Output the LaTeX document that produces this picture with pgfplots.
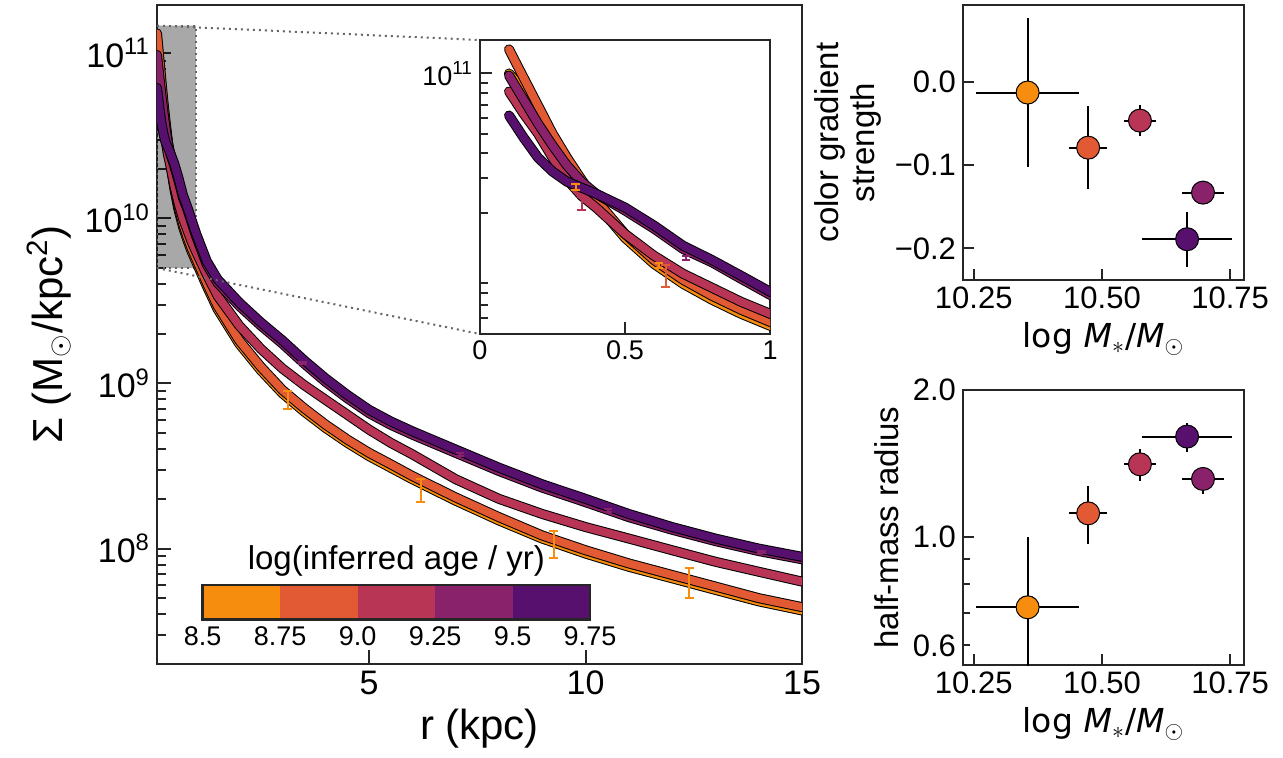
\documentclass[border=0pt]{standalone}
\usepackage{fontspec}
\setmainfont{Liberation Sans}
\newfontfamily\dejavu{DejaVu Sans}
\usepackage{pgfplots}
\pgfplotsset{compat=1.18}
\usepackage{pgfplotstable}

\definecolor{cA}{HTML}{F68D0E}
\definecolor{cB}{HTML}{E15A34}
\definecolor{cC}{HTML}{B83556}
\definecolor{cD}{HTML}{89226A}
\definecolor{cE}{HTML}{57106E}
\definecolor{axc}{HTML}{262626}

% surface density profiles, r in kpc, Sigma in Msun/kpc^2
\pgfplotstableread{
r s
0.1 1.00e11
0.15 8.32e10
0.2 6.31e10
0.25 4.79e10
0.3 3.63e10
0.35 2.88e10
0.4 2.24e10
0.5 1.51e10
0.6 1.12e10
0.7 8.91e9
0.8 7.41e9
0.9 6.31e9
1.0 5.50e9
1.25 3.89e9
1.5 2.82e9
2.0 1.74e9
2.5 1.20e9
3.0 8.71e8
3.5 6.76e8
4.0 5.37e8
4.5 4.37e8
5.0 3.63e8
5.5 3.09e8
6.0 2.63e8
7.0 1.95e8
8.0 1.48e8
9.0 1.15e8
10 9.33e7
11 7.76e7
12 6.61e7
13 5.62e7
14 4.79e7
15 4.22e7
}\tabA
\pgfplotstableread{
r s
0.1 1.32e11
0.15 9.55e10
0.2 6.92e10
0.25 5.01e10
0.3 3.80e10
0.35 2.95e10
0.4 2.34e10
0.5 1.58e10
0.6 1.17e10
0.7 9.33e9
0.8 7.76e9
0.9 6.61e9
1.0 5.75e9
1.25 4.07e9
1.5 2.95e9
2.0 1.82e9
2.5 1.26e9
3.0 9.12e8
3.5 7.08e8
4.0 5.62e8
4.5 4.57e8
5.0 3.80e8
5.5 3.24e8
6.0 2.75e8
7.0 2.04e8
8.0 1.55e8
9.0 1.20e8
10 9.77e7
11 8.13e7
12 6.92e7
13 5.89e7
14 5.01e7
15 4.42e7
}\tabB
\pgfplotstableread{
r s
0.1 8.13e10
0.15 6.31e10
0.2 5.01e10
0.25 3.80e10
0.3 2.95e10
0.35 2.45e10
0.4 2.14e10
0.5 1.58e10
0.6 1.23e10
0.7 1.00e10
0.8 8.51e9
0.9 7.24e9
1.0 6.31e9
1.25 4.57e9
1.5 3.39e9
2.0 2.24e9
2.5 1.62e9
3.0 1.23e9
3.5 9.77e8
4.0 7.94e8
4.5 6.46e8
5.0 5.25e8
5.5 4.37e8
6.0 3.72e8
7.0 2.63e8
8.0 2.00e8
9.0 1.62e8
10 1.35e8
11 1.15e8
12 9.77e7
13 8.32e7
14 7.24e7
15 6.31e7
}\tabC
\pgfplotstableread{
r s
0.1 9.77e10
0.15 7.41e10
0.2 5.62e10
0.25 4.37e10
0.3 3.47e10
0.35 2.88e10
0.4 2.51e10
0.5 2.07e10
0.6 1.68e10
0.7 1.33e10
0.8 1.14e10
0.9 9.44e9
1.0 7.85e9
1.25 5.25e9
1.5 4.07e9
2.0 2.95e9
2.5 2.24e9
3.0 1.74e9
3.5 1.32e9
4.0 1.02e9
4.5 8.13e8
5.0 6.61e8
5.5 5.62e8
6.0 4.90e8
7.0 3.80e8
8.0 2.95e8
9.0 2.34e8
10 1.91e8
11 1.55e8
12 1.30e8
13 1.11e8
14 9.66e7
15 8.61e7
}\tabD
\pgfplotstableread{
r s
0.1 6.17e10
0.15 4.79e10
0.2 3.80e10
0.25 3.24e10
0.3 2.88e10
0.35 2.69e10
0.4 2.51e10
0.5 2.14e10
0.6 1.74e10
0.7 1.38e10
0.8 1.17e10
0.9 9.77e9
1.0 8.13e9
1.25 5.50e9
1.5 4.27e9
2.0 3.09e9
2.5 2.34e9
3.0 1.82e9
3.5 1.38e9
4.0 1.07e9
4.5 8.51e8
5.0 6.92e8
5.5 5.89e8
6.0 5.13e8
7.0 3.98e8
8.0 3.09e8
9.0 2.45e8
10 2.00e8
11 1.62e8
12 1.35e8
13 1.15e8
14 1.00e8
15 8.91e7
}\tabE

% error bars, outer radii (main panel)
\pgfplotstableread{
r s ep em
3.12 7.94e8 1.08e8 0.94e8
6.19 2.24e8 0.39e8 0.33e8
9.26 1.06e8 0.22e8 0.18e8
12.4 6.17e7 1.42e7 1.16e7
}\errA
\pgfplotstableread{
r s ep em
3.4 1.02e9 0.02e9 0.02e9
}\errC
\pgfplotstableread{
r s ep em
3.47 1.33e9 0.02e9 0.02e9
7.1 3.72e8 0.06e8 0.06e8
10.52 1.70e8 0.03e8 0.03e8
14.07 9.55e7 0.15e7 0.15e7
}\errD
\pgfplotstableread{
r s ep em
3.75 1.22e9 0.02e9 0.02e9
7.33 3.63e8 0.06e8 0.06e8
10.95 1.66e8 0.03e8 0.03e8
14.65 9.23e7 0.15e7 0.15e7
}\errE
% error bars, inner radii (inset)
\pgfplotstableread{
r s ep em
0.33 2.72e10 0.10e10 0.09e10
0.617 1.10e10 0.03e10 0.03e10
}\ierrA
\pgfplotstableread{
r s ep em
0.64 9.77e9 1.32e9 1.16e9
}\ierrB
\pgfplotstableread{
r s ep em
0.35 2.24e10 0.17e10 0.17e10
}\ierrC
\pgfplotstableread{
r s ep em
0.71 1.20e10 0.03e10 0.03e10
}\ierrD
\pgfplotstableread{
r s ep em
0.37 2.63e10 0.05e10 0.05e10
}\ierrE

\newcommand{\band}[2]{%
  \addplot[black, line width=5pt, line cap=round, line join=round] table[x=r,y=s]{#1};
  \addplot[#2, line width=4pt, line cap=round, line join=round] table[x=r,y=s]{#1};}
\newcommand{\errs}[2]{%
  \addplot[draw=none, mark=none, error bars/.cd, y dir=both, y explicit,
    error bar style={#2, line width=1pt},
    error mark options={rotate=90, #2, line width=1pt, mark size=2.2pt}]
    table[x=r, y=s, y error plus=ep, y error minus=em]{#1};}
\newcommand{\allbands}{%
  \band{\tabA}{cA}\band{\tabB}{cB}\band{\tabC}{cC}\band{\tabD}{cD}\band{\tabE}{cE}}

\pgfplotsset{
  base/.style={scale only axis, anchor=south west,
    axis line style={axc, line width=1.4pt},
    every tick/.style={axc, line width=1pt},
    tick align=inside, tick pos=left,
    major tick length=7pt, minor tick length=4.5pt},
  dot/.style={only marks, mark=*, mark size=5.75pt,
    mark options={fill=#1, draw=black, line width=0.5pt},
    error bars/.cd, x dir=both, x explicit, y dir=both, y explicit,
    error bar style={black, line width=1pt}, error mark=none},
  side/.style={base, width=140.5pt, height=137.5pt,
    xmin=10.229, xmax=10.777,
    xtick={10.25,10.5,10.75}, xticklabels={10.25,10.50,10.75},
    major tick length=5.5pt, minor tick length=3.5pt,
    tick label style={font=\fontsize{15.5}{15.5}\selectfont},
    label style={font=\fontsize{16.5}{18}\selectfont},
    xlabel={{\dejavu log \textit{M}\textsubscript{$*$}/\textit{M}\textsubscript{$\odot$}}}},
}

\begin{document}
\begin{tikzpicture}
\useasboundingbox (0,0) rectangle (641.5pt,378.5pt);

% main profile panel
\begin{axis}[base, name=main, at={(78.5pt,46.5pt)},
  width=322.5pt, height=329.5pt,
  ymode=log, xmin=0.1, xmax=15, ymin=2e7, ymax=1.96e11,
  xtick={5,10,15}, xticklabels={5,10,15},
  ytick={1e8,1e9,1e10,1e11},
  yticklabels={10\textsuperscript{8},10\textsuperscript{9},10\textsuperscript{10},10\textsuperscript{11}},
  minor ytick={3e7,4e7,5e7,6e7,7e7,8e7,9e7,2e8,3e8,4e8,5e8,6e8,7e8,8e8,9e8,
    2e9,3e9,4e9,5e9,6e9,7e9,8e9,9e9,2e10,3e10,4e10,5e10,6e10,7e10,8e10,9e10},
  tick label style={font=\fontsize{17}{17}\selectfont},
  label style={font=\fontsize{21}{24}\selectfont},
  xlabel={r (kpc)},
  ylabel={Σ (M\textsubscript{$\odot$}/kpc\textsuperscript{2})},
]
\addplot[fill=black, fill opacity=0.34, draw=black!60, line width=1pt,
  dash pattern=on 1pt off 2pt]
  coordinates {(0.1,5e9) (1,5e9) (1,1.47e11) (0.1,1.47e11) (0.1,5e9)};
\allbands
\errs{\errA}{cA}\errs{\errC}{cC}\errs{\errD}{cD}\errs{\errE}{cE}
\coordinate (zTL) at (axis cs:0.1,1.47e11);
\coordinate (zBL) at (axis cs:0.1,5e9);
\end{axis}

% inset
\begin{axis}[base, name=inset, at={(240pt,211.5pt)},
  width=145pt, height=147pt,
  axis background/.style={fill=white},
  ymode=log, xmin=0, xmax=1, ymin=5e9, ymax=1.47e11,
  xtick={0,0.5,1}, xticklabels={0,0.5,1},
  ytick={1e11}, yticklabels={10\textsuperscript{11}},
  minor ytick={6e9,7e9,8e9,9e9,2e10,3e10,4e10,5e10,6e10,7e10,8e10,9e10},
  major tick length=6pt, minor tick length=4pt,
  tick label style={font=\fontsize{13.5}{13.5}\selectfont},
]
\allbands
\errs{\ierrA}{cA}\errs{\ierrB}{cB}\errs{\ierrC}{cC}\errs{\ierrD}{cD}\errs{\ierrE}{cE}
\coordinate (iTL) at (rel axis cs:0,1);
\coordinate (iBL) at (rel axis cs:0,0);
\end{axis}
\draw[black!60, line width=1pt, dash pattern=on 1pt off 2pt] (zTL) -- (iTL);
\draw[black!60, line width=1pt, dash pattern=on 1pt off 2pt] (zBL) -- (iBL);

% colour bar
\begin{axis}[base, at={(101.35pt,68.85pt)}, width=193.65pt, height=17.15pt,
  axis background/.style={fill=white},
  xmin=0, xmax=5, ymin=0, ymax=1, ytick=\empty,
  xtick={0,1,2,3,4,5}, xticklabels={8.5,8.75,9.0,9.25,9.5,9.75},
  major tick length=0pt, axis on top,
  tick label style={font=\fontsize{13.5}{13.5}\selectfont},
  title={log(inferred age / yr)},
  title style={font=\fontsize{16.5}{16.5}\selectfont, yshift=-5pt},
]
\addplot[fill=cA, draw=none] coordinates {(0,0) (1,0) (1,1) (0,1)};
\addplot[fill=cB, draw=none] coordinates {(1,0) (2,0) (2,1) (1,1)};
\addplot[fill=cC, draw=none] coordinates {(2,0) (3,0) (3,1) (2,1)};
\addplot[fill=cD, draw=none] coordinates {(3,0) (4,0) (4,1) (3,1)};
\addplot[fill=cE, draw=none] coordinates {(4,0) (5,0) (5,1) (4,1)};
\end{axis}

% colour gradient strength
\begin{axis}[side, at={(481.5pt,238.5pt)},
  ymin=-0.238, ymax=0.0924,
  ytick={0,-0.1,-0.2}, yticklabels={0.0,−0.1,−0.2},
  ylabel={color gradient\\strength}, ylabel style={align=center},
]
\addplot[dot=cA] coordinates {(10.355,-0.0128) +- (0.1,0.09)};
\addplot[dot=cB] coordinates {(10.473,-0.079) +- (0.037,0.05)};
\addplot[dot=cC] coordinates {(10.574,-0.0465) +- (0.031,0.019)};
\addplot[dot=cD] coordinates {(10.697,-0.133) +- (0.04,0.004)};
\addplot[dot=cE] coordinates {(10.666,-0.189) +- (0.087,0.033)};
\end{axis}

% half-mass radius
\begin{axis}[side, at={(481.5pt,46pt)},
  ymode=log, ymin=0.547, ymax=2.0,
  ytick={1}, yticklabels={1.0},
  extra y ticks={0.6,2}, extra y tick labels={0.6,2.0},
  extra y tick style={major tick length=3.5pt},
  minor ytick={0.7,0.8,0.9},
  ylabel={half-mass radius},
]
\addplot[dot=cA] coordinates {(10.355,0.718) += (0.1,0.282) -= (0.1,0.25)};
\addplot[dot=cB] coordinates {(10.473,1.118) +- (0.037,0.152)};
\addplot[dot=cC] coordinates {(10.574,1.409) += (0.031,0.103) -= (0.031,0.107)};
\addplot[dot=cD] coordinates {(10.697,1.315) += (0.04,0.078) -= (0.04,0.09)};
\addplot[dot=cE] coordinates {(10.666,1.606) += (0.087,0.109) -= (0.087,0.11)};
\end{axis}
\end{tikzpicture}
\end{document}
